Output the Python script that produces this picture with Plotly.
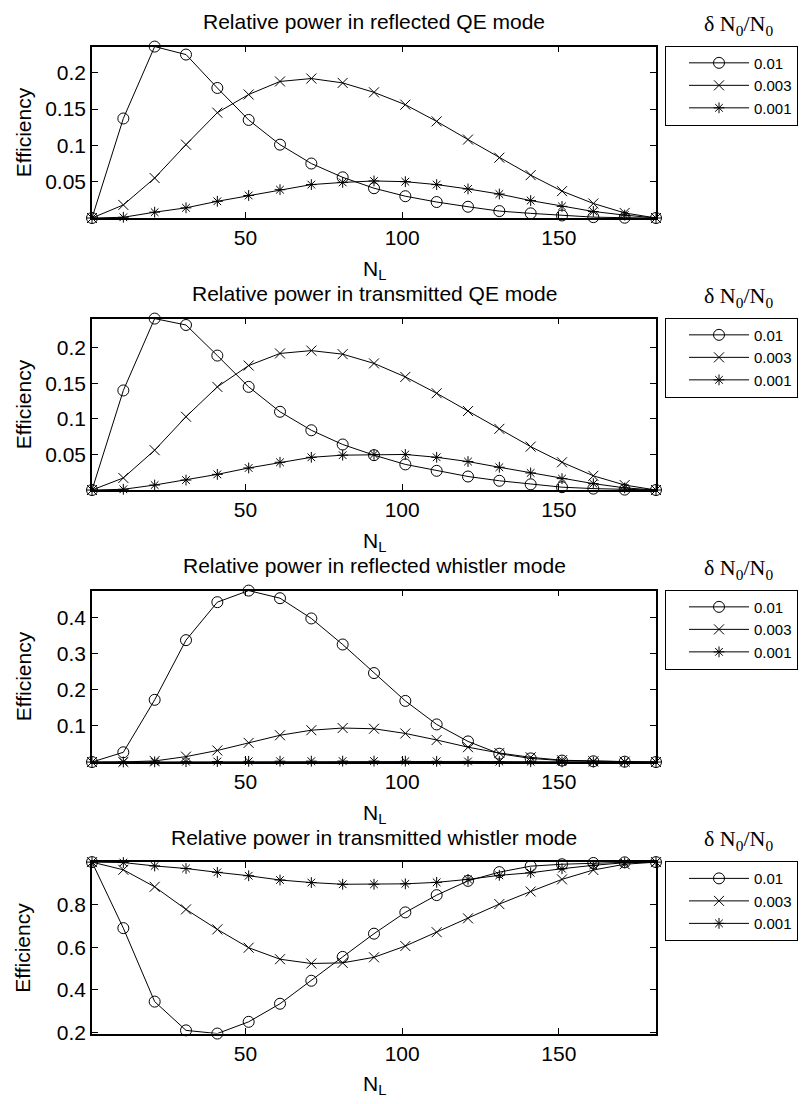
import plotly.graph_objects as go

# ---------------- data ----------------
n_l = [1, 11, 21, 31, 41, 51, 61, 71, 81, 91, 101, 111, 121, 131, 141, 151, 161, 171, 181]
series_labels = ["0.01", "0.003", "0.001"]

panel_titles = [
    "Relative power in reflected QE mode",
    "Relative power in transmitted QE mode",
    "Relative power in reflected whistler mode",
    "Relative power in transmitted whistler mode",
]

refl_qe_001 = [0, 0.137, 0.236, 0.225, 0.179, 0.135, 0.101, 0.075, 0.056, 0.041, 0.030, 0.022, 0.0155, 0.0095, 0.0064, 0.0035, 0.0012, 0.0004, 0.0]
refl_qe_0003 = [0, 0.018, 0.055, 0.101, 0.145, 0.170, 0.188, 0.192, 0.186, 0.173, 0.156, 0.133, 0.108, 0.083, 0.059, 0.037, 0.020, 0.007, 0.0]
refl_qe_0001 = [0, 0.001, 0.008, 0.014, 0.023, 0.031, 0.039, 0.046, 0.049, 0.051, 0.050, 0.046, 0.040, 0.033, 0.024, 0.016, 0.009, 0.004, 0.0]

trans_qe_001 = [0, 0.14, 0.241, 0.232, 0.189, 0.145, 0.110, 0.084, 0.064, 0.049, 0.036, 0.027, 0.019, 0.013, 0.008, 0.004, 0.002, 0.0006, 0.0]
trans_qe_0003 = [0, 0.017, 0.056, 0.103, 0.145, 0.175, 0.192, 0.196, 0.191, 0.178, 0.159, 0.136, 0.111, 0.086, 0.061, 0.039, 0.020, 0.007, 0.0]
trans_qe_0001 = [0, 0.001, 0.007, 0.014, 0.022, 0.031, 0.039, 0.046, 0.049, 0.050, 0.050, 0.046, 0.040, 0.032, 0.024, 0.016, 0.009, 0.003, 0.0]

refl_wh_001 = [0, 0.027, 0.172, 0.337, 0.442, 0.474, 0.453, 0.397, 0.325, 0.246, 0.169, 0.104, 0.057, 0.023, 0.010, 0.004, 0.002, 0.001, 0.0]
refl_wh_0003 = [0, 0.0003, 0.003, 0.015, 0.032, 0.053, 0.074, 0.088, 0.094, 0.092, 0.079, 0.061, 0.041, 0.025, 0.013, 0.005, 0.002, 0.001, 0.0]
refl_wh_0001 = [0, 0.0002, 0.0006, 0.001, 0.0015, 0.002, 0.0023, 0.0025, 0.0026, 0.0026, 0.0024, 0.002, 0.0016, 0.0012, 0.0008, 0.0004, 0.0002, 0.0001, 0.0]

trans_wh_001 = [1.0, 0.69, 0.345, 0.21, 0.195, 0.25, 0.335, 0.443, 0.555, 0.664, 0.764, 0.845, 0.912, 0.953, 0.981, 0.990, 0.996, 0.999, 1.0]
trans_wh_0003 = [1.0, 0.964, 0.884, 0.778, 0.684, 0.598, 0.544, 0.524, 0.527, 0.553, 0.606, 0.671, 0.736, 0.803, 0.862, 0.919, 0.963, 0.990, 1.0]
trans_wh_0001 = [1.0, 0.998, 0.982, 0.970, 0.952, 0.936, 0.916, 0.904, 0.896, 0.896, 0.898, 0.905, 0.919, 0.938, 0.950, 0.969, 0.985, 0.997, 1.0]

x_tickvals = [50, 100, 150]
y_tickvals_qe = [0.05, 0.1, 0.15, 0.2]
y_ticktext_qe = ["0.05", "0.1", "0.15", "0.2"]
y_tickvals_rw = [0.1, 0.2, 0.3, 0.4]
y_ticktext_rw = ["0.1", "0.2", "0.3", "0.4"]
y_tickvals_tw = [0.2, 0.4, 0.6, 0.8]
y_ticktext_tw = ["0.2", "0.4", "0.6", "0.8"]

panels = [
    ([refl_qe_001, refl_qe_0003, refl_qe_0001], y_tickvals_qe, y_ticktext_qe),
    ([trans_qe_001, trans_qe_0003, trans_qe_0001], y_tickvals_qe, y_ticktext_qe),
    ([refl_wh_001, refl_wh_0003, refl_wh_0001], y_tickvals_rw, y_ticktext_rw),
    ([trans_wh_001, trans_wh_0003, trans_wh_0001], y_tickvals_tw, y_ticktext_tw),
]

# ---------------- layout geometry (pixels) ----------------
W, H = 804, 1104
plot_left, plot_right = 92, 656
panel_tops = [47, 321.5, 596, 870]
panel_h = 173
legend_left = 665

symbols = ["circle-open", "x-thin-open", "asterisk-open"]
msizes = [11, 10, 9]
FONT = "Liberation Sans, Arial, Helvetica, sans-serif"

fig = go.Figure()
layout = dict(
    width=W, height=H,
    margin=dict(l=0, r=0, t=0, b=0),
    paper_bgcolor="white", plot_bgcolor="white",
    font=dict(family=FONT, size=21, color="black"),
    annotations=[],
)

def fx(px):
    return px / W

def fy(py):
    return 1 - py / H

for i, (series, ytv, ytt) in enumerate(panels):
    k = "" if i == 0 else str(i + 1)
    leg = "legend" if i == 0 else "legend" + str(i + 1)
    top = panel_tops[i]
    bot = top + panel_h
    allv = [v for s in series for v in s]
    ymin, ymax = min(allv), max(allv)
    for j, s in enumerate(series):
        fig.add_trace(go.Scatter(
            x=n_l, y=s, mode="lines+markers", name=series_labels[j],
            xaxis="x" + k, yaxis="y" + k, legend=leg,
            line=dict(color="black", width=1),
            marker=dict(symbol=symbols[j], size=msizes[j], color="black",
                        line=dict(color="black", width=1)),
            cliponaxis=False,
        ))
    layout["xaxis" + k] = dict(
        domain=[fx(plot_left), fx(plot_right)], anchor="y" + k,
        range=[n_l[0], n_l[-1]], tickvals=x_tickvals,
        showgrid=False, zeroline=False, showline=True, mirror="ticks",
        linecolor="black", linewidth=1.5, ticks="inside", ticklen=6,
        tickcolor="black", tickwidth=1, tickfont=dict(size=21, family=FONT),
    )
    layout["yaxis" + k] = dict(
        domain=[fy(bot), fy(top)], anchor="x" + k,
        range=[ymin, ymax], tickvals=ytv, ticktext=ytt,
        showgrid=False, zeroline=False, showline=True, mirror="ticks",
        linecolor="black", linewidth=1.5, ticks="inside", ticklen=6,
        tickcolor="black", tickwidth=1, tickfont=dict(size=21, family=FONT),
    )
    layout[leg] = dict(
        x=fx(legend_left), xanchor="left", y=fy(top - 1), yanchor="top",
        bordercolor="black", borderwidth=1, bgcolor="white",
        font=dict(size=15, family=FONT, color="black"),
        itemwidth=60, indentation=18, tracegroupgap=0,
    )
    # panel title
    layout["annotations"].append(dict(
        text=panel_titles[i], xref="paper", yref="paper",
        x=fx((plot_left + plot_right) / 2), y=fy(top - 25),
        xanchor="center", yanchor="middle", showarrow=False,
        font=dict(size=21, family=FONT),
    ))
    # y label
    layout["annotations"].append(dict(
        text="Efficiency", xref="paper", yref="paper",
        x=fx(23), y=fy(top + panel_h / 2), textangle=-90,
        xanchor="center", yanchor="middle", showarrow=False,
        font=dict(size=21, family=FONT),
    ))
    # x label
    layout["annotations"].append(dict(
        text="N<sub>L</sub>", xref="paper", yref="paper",
        x=fx((plot_left + plot_right) / 2), y=fy(bot + 37),
        xanchor="center", yanchor="top", showarrow=False,
        font=dict(size=21, family=FONT),
    ))
    # legend title
    layout["annotations"].append(dict(
        text="δ N<sub>0</sub>/N<sub>0</sub>", xref="paper", yref="paper",
        x=fx(738), y=fy(top - 22),
        xanchor="center", yanchor="middle", showarrow=False,
        font=dict(size=22, family="Liberation Serif, Times New Roman, serif"),
    ))

fig.update_layout(**layout)
fig.write_html("out.html")
